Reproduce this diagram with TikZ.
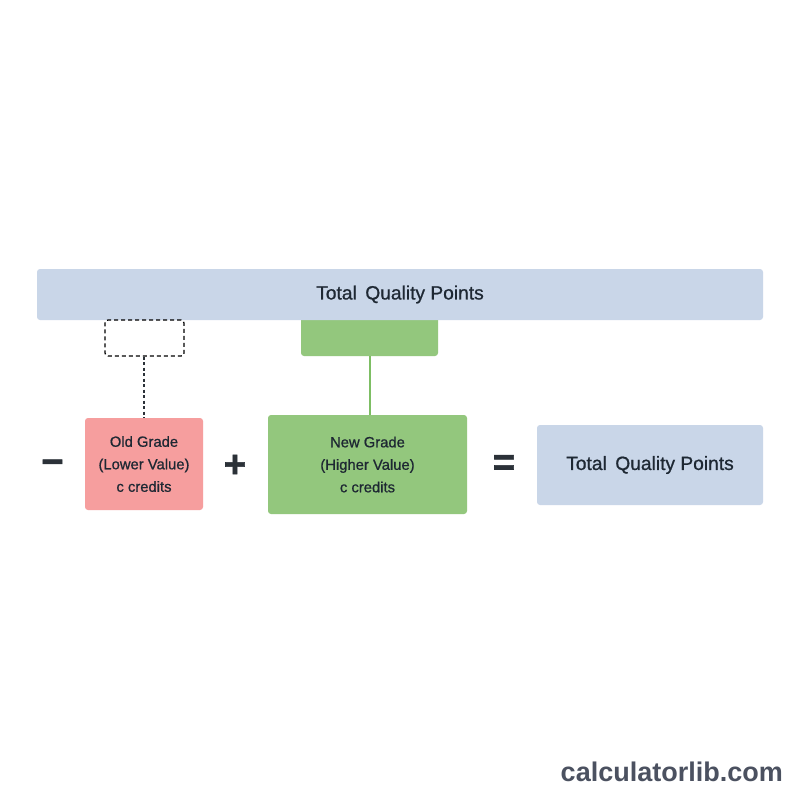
\documentclass[tikz,border=0pt]{standalone}
\usepackage{fontspec}
\setmainfont{Liberation Sans}
\usetikzlibrary{positioning}
\definecolor{barblue}{HTML}{C9D6E8}
\definecolor{gradegreen}{HTML}{93C77D}
\definecolor{linegreen}{HTML}{7DBE64}
\definecolor{gradepink}{HTML}{F69E9E}
\definecolor{txtdark}{HTML}{1E2833}
\definecolor{opdark}{HTML}{2B3138}
\definecolor{wmgray}{HTML}{4B5160}
\tikzset{
  box/.style={inner sep=0pt, rounded corners=3pt, text=txtdark, align=center},
  bluebox/.style={box, fill=barblue},
  greenbox/.style={box, fill=gradegreen},
  pinkbox/.style={box, fill=gradepink},
  holder/.style={box, draw=black, dashed, line width=1.3pt, dash pattern=on 4pt off 3pt},
  opsign/.style={inner sep=0pt, text=opdark, font=\bfseries\fontsize{38}{38}\selectfont\addfontfeature{FakeBold=1.5}},
  gradetext/.style={font=\fontsize{14.8}{22.5}\selectfont\addfontfeature{FakeBold=0.8}},
  titletext/.style={font=\fontsize{19.2}{22}\selectfont\addfontfeature{FakeBold=0.8}}
}
\begin{document}
\begin{tikzpicture}[x=1pt,y=-1pt]
\useasboundingbox (0,0) rectangle (800,800);
\fill[white] (0,0) rectangle (800,800);
% small green box behind the bar
\node[greenbox, minimum width=137pt, minimum height=40pt] (sg) at (369.5,336) {};
% top bar
\node[bluebox, minimum width=726pt, minimum height=51pt, titletext] (bar) at (400,294.5) {Total\, Quality Points};
% dashed placeholder
\node[holder, minimum width=79pt, minimum height=36pt] (dh) at (144.5,338) {};
% grade boxes
\node[pinkbox, minimum width=118pt, minimum height=92pt, gradetext] (old) at (144,464) {Old Grade\\(Lower Value)\\c credits};
\node[greenbox, minimum width=199pt, minimum height=99pt, gradetext] (new) at (367.5,464.5) {New Grade\\(Higher Value)\\c credits};
\node[bluebox, minimum width=226pt, minimum height=80pt, titletext] (tot) at (650,465) {Total\, Quality Points};
% operators
\node[opsign] (minus) at (52.5,467) {−};
\node[opsign] (plus) at (235,466) {+};
\node[opsign] (eq) at (504,465) {=};
% connectors
\coordinate (gtop) at (370,356);
\draw[opdark, line width=1.1pt, dash pattern=on 3pt off 2.5pt] (dh.south -| old.north) -- (old.north);
\draw[linegreen, line width=2pt] (gtop) -- (gtop |- new.north);
% watermark
\node[inner sep=0pt, text=wmgray, font=\bfseries\fontsize{27}{27}\selectfont, anchor=east] (wm) at (783,772) {calculatorlib.com};
\end{tikzpicture}
\end{document}
